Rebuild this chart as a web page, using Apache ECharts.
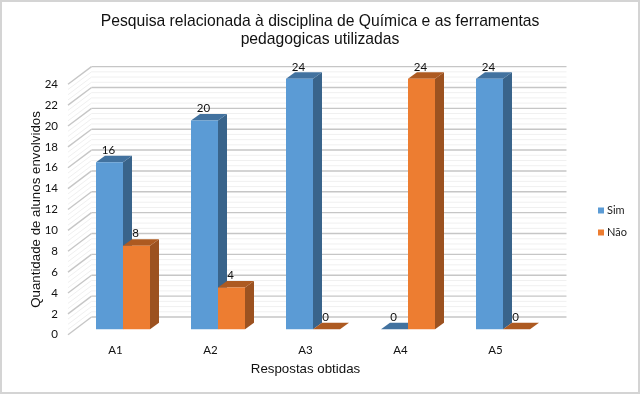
<!DOCTYPE html>
<html><head><meta charset="utf-8">
<style>html,body{margin:0;padding:0;background:#fff}#c{width:640px;height:394px}</style>
<script src="https://cdn.jsdelivr.net/npm/echarts@6/dist/echarts.min.js"></script>
</head><body><div id="c"></div>
<script>
const categories = ['A1','A2','A3','A4','A5'];
const sim = [16,20,24,0,24];
const nao = [8,4,0,24,0];
const majorLevels = [0,2,4,6,8,10,12,14,16,18,20,22,24];
const minorLevels = [0.5,1,1.5,2.5,3,3.5,4.5,5,5.5,6.5,7,7.5,8.5,9,9.5,10.5,11,11.5,12.5,13,13.5,14.5,15,15.5,16.5,17,17.5,18.5,19,19.5,20.5,21,21.5,22.5,23,23.5];
const titleText = 'Pesquisa relacionada à disciplina de Química e as ferramentas\npedagogicas utilizadas';

const BACK = [23.5,-17.7], BAR_OFF = [7.5,-5.5], DEPTH = [9,-6.5], BAR_W = 27;
const tickFont = 'Lato, Carlito, sans-serif', axisFont = '"Liberation Sans", Arial, sans-serif';

function wall(color, width){
  return function(params, api){
    const cs = params.coordSys, y = api.coord([0, api.value(0)])[1];
    const x0 = cs.x, x1 = cs.x + cs.width;
    const style = {stroke: color, lineWidth: width, fill: null};
    return {type:'group', silent:true, children:[
      {type:'line', shape:{x1:x0, y1:y, x2:x0+BACK[0], y2:y+BACK[1]}, style},
      {type:'line', shape:{x1:x0+BACK[0], y1:y+BACK[1], x2:x1+BACK[0], y2:y+BACK[1]}, style}
    ]};
  };
}
function bar(shift, front, side, top){
  return function(params, api){
    const c = api.coord([api.value(0), api.value(1)]), base = api.coord([api.value(0), 0]);
    const xl = c[0] + BAR_OFF[0] + shift, xr = xl + BAR_W;
    const yt = c[1] + BAR_OFF[1], yb = base[1] + BAR_OFF[1];
    const d = DEPTH;
    const kids = [
      {type:'polygon', shape:{points:[[xr,yt],[xr+d[0],yt+d[1]],[xr+d[0],yb+d[1]],[xr,yb]]}, style:{fill:side}},
      {type:'polygon', shape:{points:[[xl,yt],[xl+d[0],yt+d[1]],[xr+d[0],yt+d[1]],[xr,yt]]}, style:{fill:top}},
      {type:'rect', shape:{x:xl,y:yt,width:BAR_W,height:yb-yt}, style:{fill:front}},
      {type:'text', style:{text:String(api.value(1)), x:(xl+xr)/2-1, y:yt-12, align:'center', verticalAlign:'middle',
        font:'11.5px '+tickFont, fill:'#111'}, z2:10}
    ];
    return {type:'group', children:kids};
  };
}
const chart = echarts.init(document.getElementById('c'), null, {renderer:'canvas'});
chart.setOption({
  animation:false,
  backgroundColor:'#fff',
  title:{text:titleText, left:315, top:8, textAlign:'center',
    textStyle:{fontFamily:axisFont, fontSize:15.7, fontWeight:'normal', color:'#111', lineHeight:18}},
  legend:{orient:'vertical', left:593, top:200, itemWidth:6, itemHeight:6, itemGap:11,
    icon:'rect', data:['Sim','Não'], selectedMode:false,
    textStyle:{fontFamily:tickFont, fontSize:11, color:'#222', padding:[0,0,0,-2]}},
  grid:{left:68, right:97, top:84.3, bottom:59.3, containLabel:false},
  xAxis:{type:'category', data:categories, axisLine:{show:false}, axisTick:{show:false},
    axisLabel:{margin:10, fontFamily:tickFont, fontSize:11.5, color:'#111'},
    name:'Respostas obtidas', nameLocation:'middle', nameGap:28,
    nameTextStyle:{fontFamily:axisFont, fontSize:13.3, color:'#111'}},
  yAxis:{type:'value', min:0, max:24, interval:2, axisLine:{show:false}, axisTick:{show:false},
    splitLine:{show:false},
    axisLabel:{margin:10, fontFamily:tickFont, fontSize:11.5, color:'#111'},
    name:'Quantidade de alunos envolvidos', nameLocation:'middle', nameGap:25, nameMoveOverlap:false,
    nameTextStyle:{fontFamily:axisFont, fontSize:13.3, color:'#111'}},
  graphic:[{type:'rect', shape:{x:1,y:1,width:638,height:392}, style:{fill:null, stroke:'#d4d4d4', lineWidth:2}, silent:true}],
  series:[
    {type:'custom', name:'minor', data:minorLevels.map(v=>[v]), renderItem:wall('#f0f0f0',1), encode:{y:0}, silent:true, z:1},
    {type:'custom', name:'major', data:majorLevels.map(v=>[v]), renderItem:wall('#c6c6c6',1.4), encode:{y:0}, silent:true, z:2},
    {type:'custom', name:'Sim', data:categories.map((c,i)=>[i,sim[i]]), encode:{x:0,y:1},
      renderItem:bar(-BAR_W,'#5B9BD5','#39648B','#42729F'), itemStyle:{color:'#5B9BD5'}, z:3},
    {type:'custom', name:'Não', data:categories.map((c,i)=>[i,nao[i]]), encode:{x:0,y:1},
      renderItem:bar(0,'#ED7D31','#9C5220','#AD5A21'), itemStyle:{color:'#ED7D31'}, z:4}
  ]
});
</script></body></html>
